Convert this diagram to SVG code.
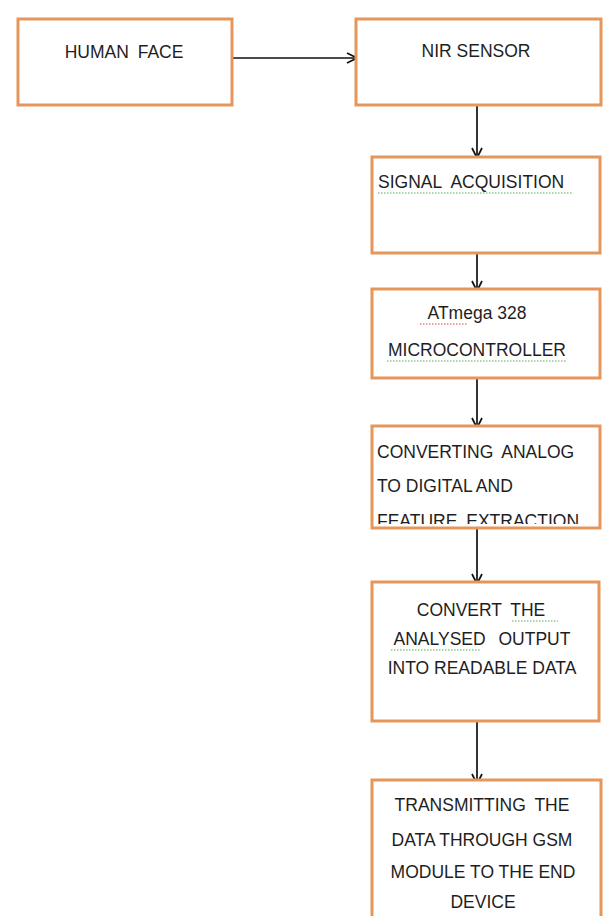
<svg xmlns="http://www.w3.org/2000/svg" width="603" height="916" viewBox="0 0 603 916">
<style>
.box{fill:#ffffff;stroke:#E6955B;stroke-width:3}
.t{font-family:"Liberation Sans",Arial,sans-serif;font-size:17.5px;fill:#1e1e1e}
.c{text-anchor:middle}
.con{stroke:#111111;stroke-width:1.7;fill:none}
.sq{stroke:#4cb04c;stroke-width:1;fill:none;stroke-dasharray:1.5 1.5}
.sqr{stroke:#d04040;stroke-width:1;fill:none;stroke-dasharray:1.5 1.5}
</style>
<defs>
<marker id="ah" viewBox="0 0 12 12" refX="11" refY="6" markerWidth="12" markerHeight="12" markerUnits="userSpaceOnUse" orient="auto">
<path d="M1,1 L11,6 L1,11" fill="none" stroke="#111111" stroke-width="1.7"/>
</marker>
<clipPath id="clip4"><rect x="372" y="426" width="228" height="98"/></clipPath>
</defs>
<rect width="603" height="916" fill="#ffffff"/>
<g id="connectors">
<line class="con" x1="232" y1="58" x2="357" y2="58" marker-end="url(#ah)"/>
<line class="con" x1="477" y1="105" x2="477" y2="158" marker-end="url(#ah)"/>
<line class="con" x1="477" y1="253" x2="477" y2="291" marker-end="url(#ah)"/>
<line class="con" x1="477" y1="378" x2="477" y2="428" marker-end="url(#ah)"/>
<line class="con" x1="477" y1="528" x2="477" y2="584" marker-end="url(#ah)"/>
<line class="con" x1="477" y1="721" x2="477" y2="784" marker-end="url(#ah)"/>
</g>
<g id="human-face">
<rect class="box" x="18" y="19" width="214" height="86"/>
<text class="t c" x="124" y="58" word-spacing="4">HUMAN FACE</text>
</g>
<g id="nir-sensor">
<rect class="box" x="356" y="19" width="245" height="86"/>
<text class="t c" x="476" y="57">NIR SENSOR</text>
</g>
<g id="signal-acquisition">
<rect class="box" x="372" y="157" width="228" height="96"/>
<text class="t" x="378" y="188" word-spacing="5">SIGNAL ACQUISITION</text>
<path class="sq" d="M378,193 L573,193"/>
</g>
<g id="atmega">
<rect class="box" x="372" y="289" width="228" height="89"/>
<text class="t c" x="477" y="319">ATmega 328</text>
<path class="sqr" d="M420,324 L468,324"/>
<text class="t c" x="477" y="356">MICROCONTROLLER</text>
<path class="sq" d="M387,361 L567,361"/>
</g>
<g id="converting">
<rect class="box" x="372" y="426" width="228" height="102"/>
<g clip-path="url(#clip4)">
<text class="t" x="377" y="458" word-spacing="4">CONVERTING ANALOG</text>
<text class="t" x="377" y="492">TO DIGITAL AND</text>
<text class="t" x="377" y="527" word-spacing="4">FEATURE EXTRACTION</text>
</g>
</g>
<g id="convert-output">
<rect class="box" x="372" y="582" width="227" height="139"/>
<text class="t c" x="481" y="616" word-spacing="4">CONVERT THE</text>
<path class="sq" d="M512,621 L558,621"/>
<text class="t c" x="482" y="645" word-spacing="8">ANALYSED OUTPUT</text>
<path class="sq" d="M391,650 L481,650"/>
<text class="t c" x="482" y="674">INTO READABLE DATA</text>
</g>
<g id="transmitting">
<rect class="box" x="372" y="780" width="229" height="150"/>
<text class="t c" x="482" y="811" word-spacing="4">TRANSMITTING THE</text>
<text class="t c" x="482" y="846">DATA THROUGH GSM</text>
<text class="t c" x="483" y="878">MODULE TO THE END</text>
<text class="t c" x="483" y="908">DEVICE</text>
</g>
</svg>
